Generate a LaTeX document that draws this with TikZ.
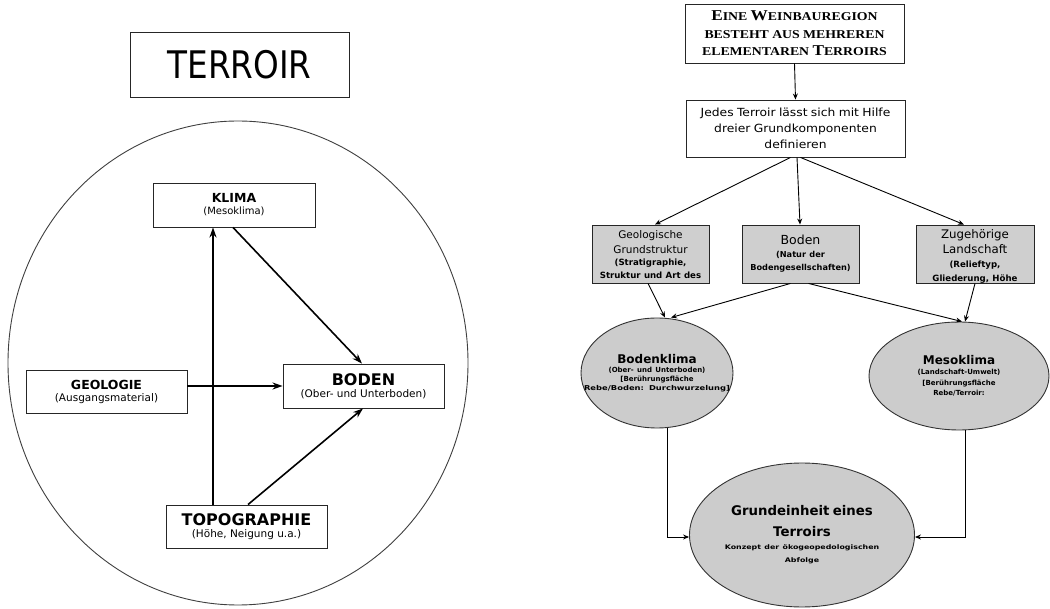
\documentclass[tikz,border=0pt]{standalone}
\usepackage{fontspec}
\setmainfont{DejaVu Sans}
\newfontfamily\cond{DejaVu Sans}[FakeStretch=0.86]
\newfontfamily\wid{DejaVu Sans}[FakeStretch=1.1]
\newfontfamily\wide{DejaVu Sans}[FakeStretch=1.25]
\newfontfamily\srf{Liberation Serif}[FakeStretch=1.15]
\usetikzlibrary{arrows.meta,shapes.geometric}
\newcommand{\Kap}[1]{{\fontsize{15}{15}\selectfont #1}}
\begin{document}
\begin{tikzpicture}[x=1pt,y=-1pt,
  box/.style={draw=black!85, line width=0.9pt, inner sep=0pt, align=center},
  gbox/.style={box, fill=black!19},
  gell/.style={draw=black!80, line width=0.9pt, ellipse, fill=black!20, inner sep=0pt},
  txt/.style={align=center, inner sep=0pt},
  larrow/.style={line width=1.6pt, -{Stealth[length=10pt,width=7pt]}},
  rarrow/.style={line width=0.9pt, -{Stealth[length=6pt,width=5pt]}}]
\useasboundingbox (0,0) rectangle (1050,609);
\fill[white] (0,0) rectangle (1050,609);

% ---------- left diagram ----------
\node[box, minimum width=219pt, minimum height=65pt] (terroir) at (239.5,64.5)
  {\cond\fontsize{38}{38}\selectfont TERROIR};
\draw[black!75, line width=0.9pt] (238,363) ellipse [x radius=230pt, y radius=242pt];

\node[box, minimum width=162pt, minimum height=44pt, text width=160pt] (klima) at (234,205)
  {{\bfseries\fontsize{12.5}{17}\selectfont KLIMA\par}{\fontsize{10}{12}\selectfont (Mesoklima)\par}};
\node[box, minimum width=161pt, minimum height=43pt, text width=159pt] (geol) at (106.5,391.5)
  {{\bfseries\fontsize{12.5}{17}\selectfont GEOLOGIE\par}{\fontsize{10.5}{12}\selectfont (Ausgangsmaterial)\par}};
\node[box, minimum width=161pt, minimum height=44pt, text width=159pt] (boden) at (363.5,386)
  {{\bfseries\fontsize{16}{18}\selectfont BODEN\par}{\fontsize{10.5}{12}\selectfont (Ober- und Unterboden)\par}};
\node[box, minimum width=161pt, minimum height=43pt, text width=159pt] (topo) at (246.5,526.5)
  {{\bfseries\fontsize{16}{18}\selectfont TOPOGRAPHIE\par}{\fontsize{10.5}{12}\selectfont (Höhe, Neigung u.a.)\par}};

\draw[larrow] ([xshift=-33.5pt]topo.north) -- ([xshift=-21pt]klima.south);
\draw[larrow] ([xshift=-1pt]klima.south) -- ([xshift=-1.5pt]boden.north);
\draw[larrow] ([yshift=5.5pt]geol.east) -- (boden.west);
\draw[larrow] ([xshift=1.5pt]topo.north) -- ([xshift=-0.5pt]boden.south);

% ---------- right diagram ----------
\node[box, minimum width=219pt, minimum height=59pt, text width=217pt] (region) at (794.5,33.5)
  {\srf\bfseries\fontsize{12}{17.5}\selectfont \Kap{E}INE \Kap{W}EINBAUREGION\\BESTEHT AUS MEHREREN\\ELEMENTAREN \Kap{T}ERROIRS\par};
\node[box, minimum width=219pt, minimum height=57pt, text width=217pt] (jedes) at (795.5,128.5)
  {\wid\fontsize{11.2}{16}\selectfont Jedes Terroir lässt sich mit Hilfe\\dreier Grundkomponenten\\definieren\par};

\node[gbox, minimum width=117pt, minimum height=58pt] (geo) at (650.5,254) {};
\node[gbox, minimum width=117pt, minimum height=58pt] (bod) at (800.5,254) {};
\node[gbox, minimum width=118pt, minimum height=58pt] (land) at (975,254) {};
\begin{scope}
  \clip ([xshift=1pt,yshift=1pt]geo.south west) rectangle ([xshift=-1pt,yshift=-1pt]geo.north east);
  \node[txt, anchor=north, text width=130pt] (geotxt) at ([yshift=-6pt]geo.north)
    {{\fontsize{10.5}{14.5}\selectfont Geologische\\Grundstruktur\par}
     {\bfseries\fontsize{8.6}{12.5}\selectfont (Stratigraphie,\\Struktur und Art des\par}};
\end{scope}
\begin{scope}
  \clip ([xshift=1pt,yshift=1pt]bod.south west) rectangle ([xshift=-1pt,yshift=-1pt]bod.north east);
  \node[txt, anchor=north, text width=130pt] (bodtxt) at ([yshift=-10pt]bod.north)
    {{\fontsize{12.5}{15}\selectfont Boden\par}
     {\bfseries\fontsize{8.2}{13}\selectfont (Natur der\\Bodengesellschaften)\par}};
\end{scope}
\begin{scope}
  \clip ([xshift=1pt,yshift=1pt]land.south west) rectangle ([xshift=-1pt,yshift=-1pt]land.north east);
  \node[txt, anchor=north, text width=130pt] (landtxt) at ([yshift=-5pt]land.north)
    {{\fontsize{11.8}{15}\selectfont Zugehörige\\Landschaft\par}
     {\bfseries\fontsize{8.6}{14}\selectfont (Relieftyp,\\Gliederung, Höhe\par}};
\end{scope}

\node[gell, minimum width=152pt, minimum height=110pt] (bklima) at (657,373) {};
\node[txt, text width=160pt] (bktxt) at (bklima.center)
  {{\bfseries\fontsize{12}{14}\selectfont Bodenklima\par}
   {\bfseries\fontsize{7}{9}\selectfont (Ober- und Unterboden)\\{[}Berührungsfläche\par}
   {\bfseries\wide\fontsize{6.7}{9.5}\selectfont Rebe/Boden: Durchwurzelung{]}\par}};
\node[gell, minimum width=180pt, minimum height=108pt] (mklima) at (959,376) {};
\node[txt, text width=170pt] (mktxt) at (mklima.center)
  {{\bfseries\fontsize{12}{14}\selectfont Mesoklima\par}
   {\bfseries\fontsize{7}{10.5}\selectfont (Landschaft-Umwelt)\\{[}Berührungsfläche\\Rebe/Terroir:\par}};
\node[gell, minimum width=225pt, minimum height=144pt] (grund) at (802,535) {};
\node[txt, text width=210pt] (grtxt) at (grund.center)
  {{\bfseries\fontsize{13.3}{21}\selectfont Grundeinheit eines\\Terroirs\par}
   {\bfseries\wide\fontsize{6.3}{13}\selectfont Konzept der ökogeopedologischen\\Abfolge\par}};

\draw[rarrow] (region.south) -- (jedes.north);
\draw[rarrow] ([xshift=-5pt]jedes.south) -- ([xshift=4.5pt]geo.north);
\draw[rarrow] ([xshift=1.5pt]jedes.south) -- ([xshift=-0.5pt]bod.north);
\draw[rarrow] ([xshift=5pt]jedes.south) -- ([xshift=-11pt]land.north);
\draw[rarrow] ([xshift=-2.5pt]geo.south) -- ([xshift=8pt]bklima.north);
\draw[rarrow] ([xshift=-10pt]bod.south) -- ([xshift=14pt]bklima.north);
\draw[rarrow] ([xshift=8pt]bod.south) -- ([xshift=3pt]mklima.north);
\draw[rarrow] (land.south) -- ([xshift=6pt]mklima.north);
\draw[rarrow] ([xshift=10pt]bklima.south) |- ([yshift=-2pt]grund.west);
\draw[rarrow] ([xshift=6pt]mklima.south) |- ([yshift=-2pt]grund.east);
\end{tikzpicture}
\end{document}
